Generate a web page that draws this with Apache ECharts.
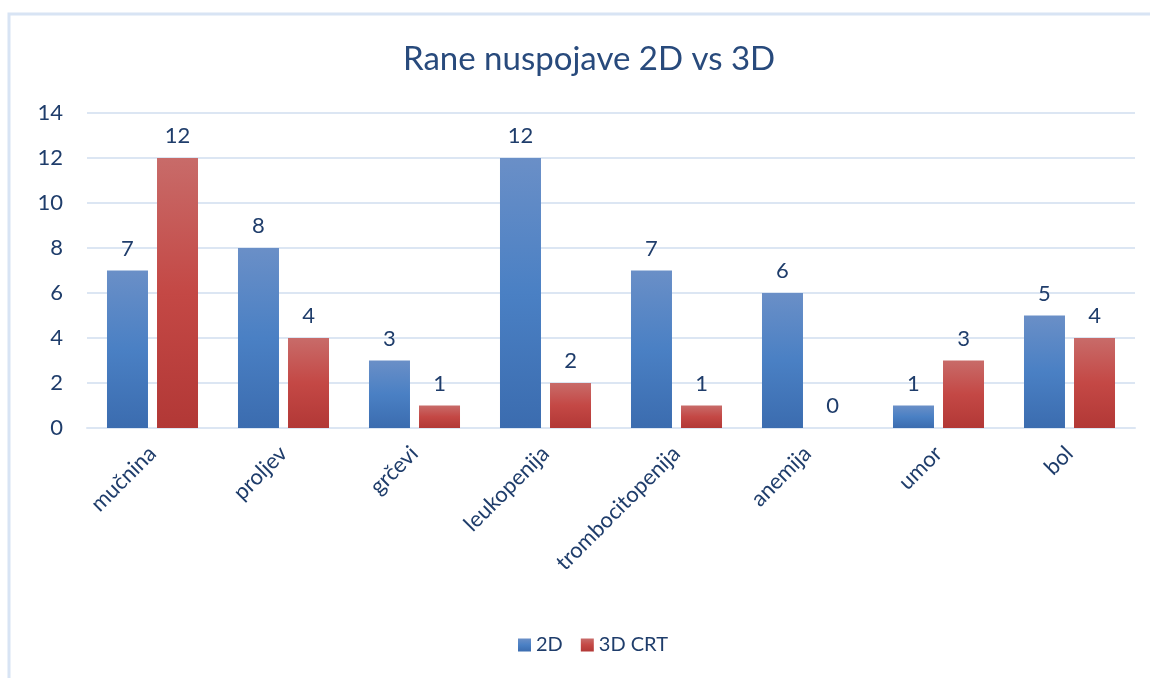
<!DOCTYPE html>
<html>
<head>
<meta charset="utf-8">
<script src="https://cdn.jsdelivr.net/npm/echarts@6/dist/echarts.min.js"></script>
<style>
  html, body { margin: 0; padding: 0; background: #fff; }
  #chart { width: 1150px; height: 678px; }
</style>
</head>
<body>
<div id="chart"></div>
<script>
  // podaci
  const categories = ['mučnina', 'proljev', 'grčevi', 'leukopenija', 'trombocitopenija', 'anemija', 'umor', 'bol']
  const values2D = [7, 8, 3, 12, 7, 6, 1, 5]
  const values3D = [12, 4, 1, 2, 1, 0, 3, 4]
  const seriesNames = ['2D', '3D CRT']

  const font = 'Lato, "Open Sans", sans-serif'
  const textColor = '#1f3d6b'

  const grad = (top, mid, bottom) => new echarts.graphic.LinearGradient(0, 0, 0, 1, [
    { offset: 0, color: top },
    { offset: 0.5, color: mid },
    { offset: 1, color: bottom }
  ])

  const myChart = echarts.init(document.getElementById('chart'))
  myChart.setOption({
    animation: false,
    title: {
      text: 'Rane nuspojave 2D vs 3D',
      left: 398,
      top: 38,
      textStyle: { fontFamily: font, fontSize: 33, fontWeight: 'normal', color: '#284a7c' }
    },
    graphic: [{
      type: 'rect',
      shape: { x: 9, y: 14, width: 1200, height: 700 },
      style: { fill: 'none', stroke: '#d8e4f4', lineWidth: 3 },
      silent: true
    }],
    legend: {
      data: seriesNames,
      bottom: 18,
      left: 513,
      itemWidth: 13,
      itemHeight: 13,
      itemGap: 18,
      icon: 'rect',
      textStyle: { fontFamily: font, fontSize: 20, color: textColor }
    },
    grid: { left: 87, right: 15, top: 113, bottom: 250 },
    xAxis: {
      type: 'category',
      data: categories,
      axisLine: { lineStyle: { color: '#dce6f3', width: 2 } },
      axisTick: { show: false },
      axisLabel: {
        rotate: 45,
        margin: 22,
        fontFamily: font,
        fontSize: 22,
        color: textColor
      }
    },
    yAxis: {
      type: 'value',
      min: 0,
      max: 14,
      interval: 2,
      axisLine: { show: false },
      axisTick: { show: false },
      splitLine: { lineStyle: { color: '#dce6f3', width: 2 } },
      axisLabel: { margin: 24, fontFamily: font, fontSize: 22, color: textColor }
    },
    series: [
      {
        name: seriesNames[0],
        type: 'bar',
        data: values2D,
        barWidth: 41,
        barGap: '22%',
        itemStyle: {
          color: grad('#6a8fc7', '#4a80c4', '#3b6caf')
        },
        label: {
          show: true,
          position: 'top',
          distance: 11,
          fontFamily: font,
          fontSize: 22,
          color: textColor
        }
      },
      {
        name: seriesNames[1],
        type: 'bar',
        data: values3D,
        barWidth: 41,
        itemStyle: {
          color: grad('#c86b69', '#c44845', '#b23836')
        },
        label: {
          show: true,
          position: 'top',
          distance: 11,
          fontFamily: font,
          fontSize: 22,
          color: textColor
        }
      }
    ]
  })
</script>
</body>
</html>
